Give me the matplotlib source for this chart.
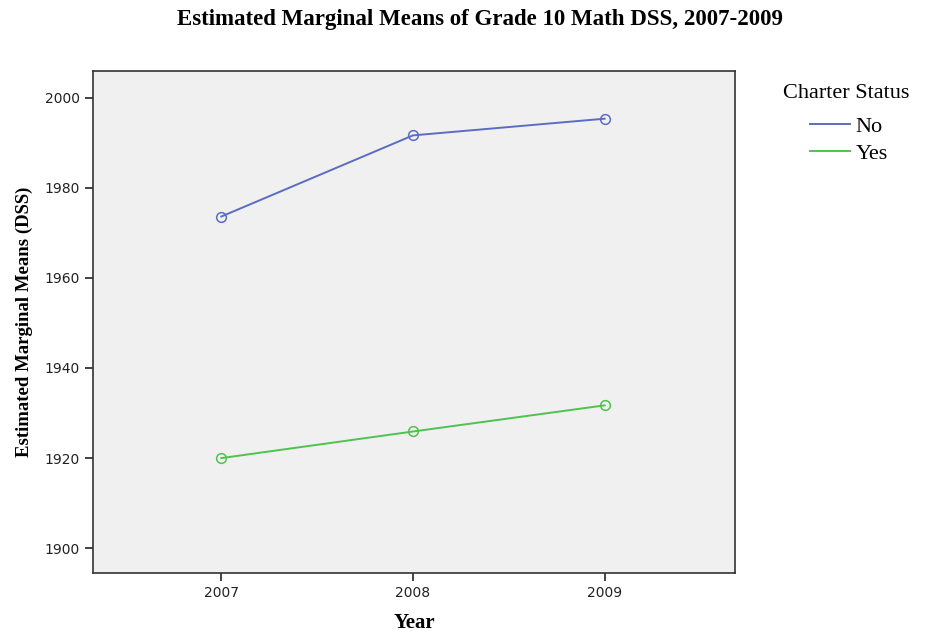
import matplotlib.pyplot as plt

years = ["2007", "2008", "2009"]
means_no = [1973.6, 1991.6, 1995.3]
means_yes = [1920.0, 1925.9, 1931.7]
yticks = [1900, 1920, 1940, 1960, 1980, 2000]

blue = "#5b6cc2"
green = "#4fc24f"
serif = "Liberation Serif"

fig = plt.figure(figsize=(9.25, 6.35), dpi=100)
ax = fig.add_axes([0.1005, 0.0976, 0.694, 0.790])
ax.set_facecolor("#f0f0f0")

x = range(len(years))
ax.plot(x, means_no, color=blue, lw=1.4, marker="o", ms=7, mfc="none", mew=1.1, label="No")
ax.plot(x, means_yes, color=green, lw=1.4, marker="o", ms=7, mfc="none", mew=1.1, label="Yes")

ax.set_xlim(-0.67, 2.68)
ax.set_ylim(1894.5, 2005.8)
ax.set_xticks(list(x))
ax.set_xticklabels(years)
ax.set_yticks(yticks)
ax.tick_params(labelsize=10, colors="#222222", length=6, width=1.2)
for s in ax.spines.values():
    s.set_linewidth(1.2)
    s.set_color("#333333")

ax.set_xlabel("Year", family=serif, fontweight="bold", fontsize=15, labelpad=9)
ax.set_ylabel("Estimated Marginal Means (DSS)", family=serif, fontweight="bold", fontsize=13.5, labelpad=8)
fig.text(0.519, 1 - 20 / 635, "Estimated Marginal Means of Grade 10 Math DSS, 2007-2009", family=serif,
         fontweight="bold", fontsize=16.5, ha="center", va="center")

# legend title drawn separately so the gap matches
fig.text(783 / 925, 1 - 93 / 635, "Charter Status", family=serif, fontsize=16, va="center", ha="left")
leg = fig.legend(loc="center left", bbox_to_anchor=(810 / 925, 1 - 140 / 635), frameon=False,
                 prop={"family": serif, "size": 16}, borderpad=0, borderaxespad=0,
                 handlelength=1.8, handletextpad=0.25, labelspacing=0.3)
for h in leg.legend_handles:
    h.set_marker("")

plt.savefig("out.png", dpi=100)
